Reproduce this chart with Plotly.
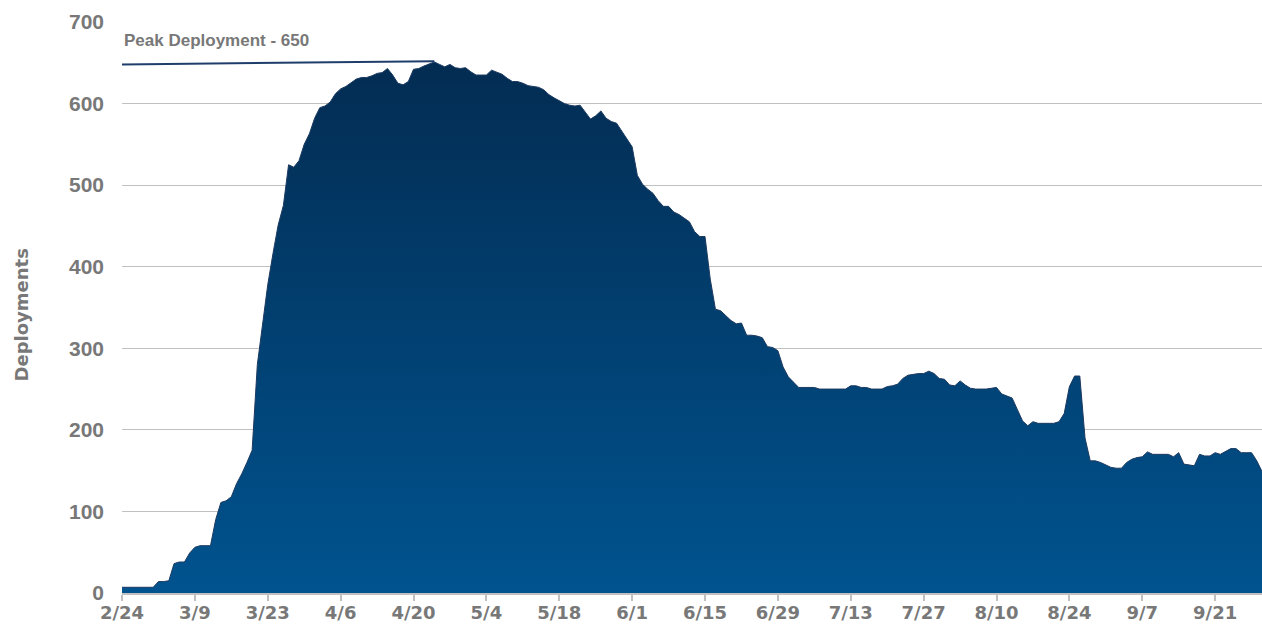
import pandas as pd
import plotly.graph_objects as go

START_DATE = "2020-02-24"
END_DATE = "2020-09-30"

deployments = [
    7, 7, 7, 7, 7, 7, 7, 14, 14, 15,
    36, 38, 38, 49, 56, 58, 58, 58, 90, 111,
    113, 118, 134, 146, 160, 175, 280, 331, 378, 416,
    451, 475, 525, 522, 530, 550, 563, 582, 595, 597,
    602, 612, 618, 621, 626, 630, 632, 632, 634, 637,
    638, 643, 635, 625, 623, 627, 642, 643, 646, 649,
    651, 648, 645, 648, 644, 643, 644, 639, 635, 635,
    635, 641, 638, 636, 631, 627, 627, 625, 622, 621,
    620, 617, 611, 607, 603, 600, 598, 597, 598, 590,
    581, 585, 591, 582, 578, 576, 566, 557, 547, 512,
    501, 495, 490, 481, 474, 474, 467, 464, 459, 455,
    443, 437, 437, 385, 348, 346, 340, 334, 330, 331,
    316, 316, 315, 313, 302, 301, 297, 277, 265, 258,
    252, 252, 252, 252, 250, 250, 250, 250, 250, 250,
    254, 254, 252, 252, 250, 250, 250, 253, 254, 256,
    263, 267, 268, 269, 269, 272, 269, 263, 262, 255,
    254, 260, 255, 251, 250, 250, 250, 251, 252, 244,
    241, 239, 225, 211, 205, 210, 208, 208, 208, 208,
    210, 220, 253, 266, 266, 190, 162, 162, 160, 157,
    154, 153, 153, 160, 164, 166, 167, 173, 170, 170,
    170, 170, 167, 172, 158, 157, 156, 170, 168, 168,
    172, 170, 173, 177, 177, 172, 172, 172, 162, 149,
]
dates = pd.date_range(START_DATE, periods=len(deployments), freq="D")

PEAK_LABEL = "Peak Deployment - 650"
PEAK_VALUE = 650
PEAK_DATE = "2020-04-24"

y_ticks = [0, 100, 200, 300, 400, 500, 600, 700]

GRAY = "#787878"
GRID = "#c0c0c0"
FONT_A = "Liberation Sans"
FONT_B = "DejaVu Sans"

fig = go.Figure()
fig.add_trace(go.Scatter(
    x=dates,
    y=deployments,
    mode="lines",
    line=dict(color="#1c3a60", width=1),
    fill="tozeroy",
    fillgradient=dict(
        type="vertical",
        colorscale=[[0, "#00538f"], [1, "#032c52"]],
        start=0,
        stop=PEAK_VALUE,
    ),
    hoverinfo="skip",
    showlegend=False,
))

fig.add_shape(
    type="line", xref="x", yref="y",
    x0=START_DATE, y0=PEAK_VALUE - 2, x1=PEAK_DATE, y1=PEAK_VALUE + 2,
    line=dict(color="#1f3d6b", width=2),
)
fig.add_annotation(
    text=PEAK_LABEL, xref="x", yref="y", x=START_DATE, y=PEAK_VALUE,
    xanchor="left", yanchor="middle", xshift=0, yshift=22, showarrow=False,
    font=dict(family=FONT_A, size=17, color=GRAY, weight="bold"),
)
fig.add_annotation(
    text="Deployments", xref="paper", yref="paper", x=0, y=0.5,
    xanchor="center", yanchor="middle", xshift=-101, yshift=-8,
    textangle=-90, showarrow=False,
    font=dict(family=FONT_B, size=18, color=GRAY, weight="bold"),
)

fig.update_layout(
    width=1262, height=628,
    margin=dict(l=122, r=0, t=22, b=35),
    plot_bgcolor="white", paper_bgcolor="white",
    font=dict(family=FONT_A, color=GRAY),
    xaxis=dict(
        type="date",
        range=[START_DATE, END_DATE],
        tick0=START_DATE, dtick=14 * 86400000,
        tickformat="%-m/%-d",
        ticks="outside", ticklen=6, tickcolor=GRID, tickwidth=1.5,
        showline=True, linecolor=GRID, linewidth=1.5,
        showgrid=False, zeroline=False,
        ticklabelstandoff=-3,
        tickfont=dict(family=FONT_B, size=18, color=GRAY, weight="bold"),
    ),
    yaxis=dict(
        range=[0, 700], tickvals=y_ticks,
        showgrid=True, gridcolor=GRID, gridwidth=1,
        zeroline=False, showline=False, ticks="",
        ticklabelstandoff=17,
        tickfont=dict(family=FONT_A, size=21, color=GRAY, weight="bold"),
    ),
)

fig.write_html("out.html")
